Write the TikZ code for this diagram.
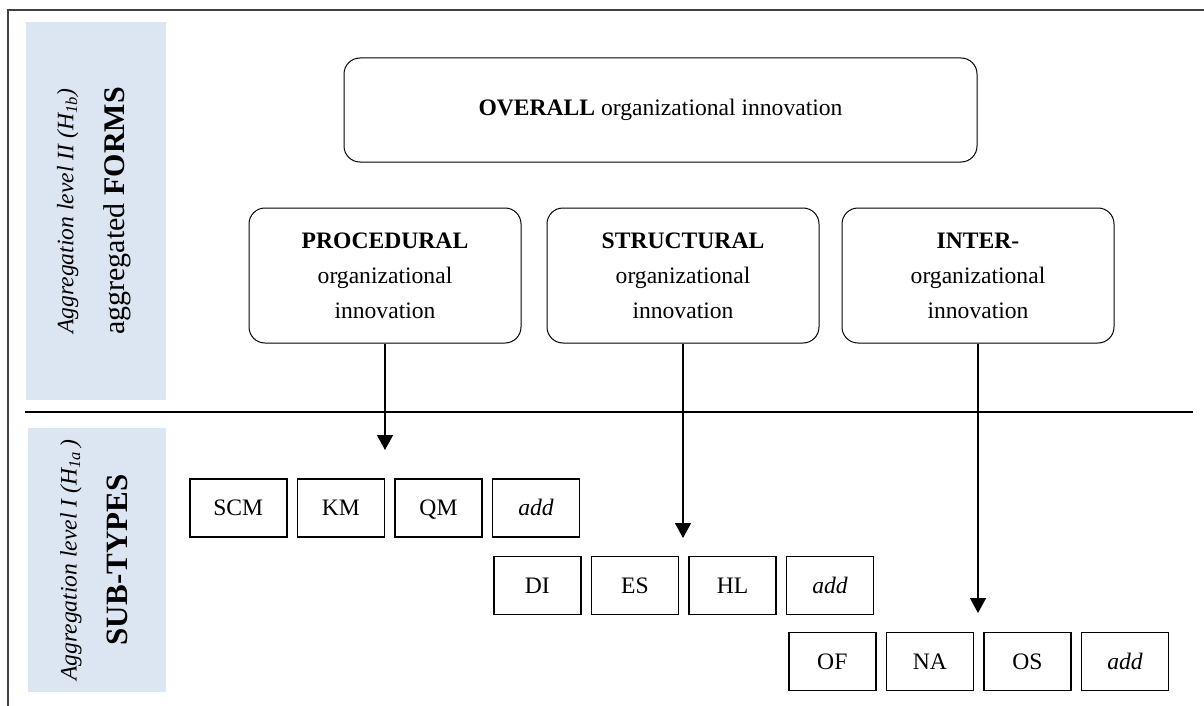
\documentclass[tikz,border=0pt]{standalone}
\usepackage{fontspec}
\setmainfont{Liberation Serif}
\usetikzlibrary{positioning}
\usetikzlibrary{arrows.meta}
\definecolor{panelblue}{HTML}{DCE6F2}
\tikzset{
  formbox/.style={draw, rounded corners=8pt, line width=0.5pt, minimum width=136pt, minimum height=67.5pt, align=center, inner sep=0pt},
  subbox/.style={draw, line width=0.8pt, minimum width=43.5pt, minimum height=29pt, inner sep=0pt, text height=7.8pt, text depth=0pt},
  downarrow/.style={-{Triangle[width=8pt,length=7.5pt]}, line width=0.75pt},
  lvllabel/.style={rotate=90, align=center, inner sep=0pt},
}

\begin{document}
\begin{tikzpicture}[x=0.5pt, y=-0.5pt, font=\fontsize{11.8}{17.5}\selectfont]
  \useasboundingbox (0,0) rectangle (1204,706);
  % frame and level panels
  \draw[line width=0.8pt, black!75] (1204,10) -- (8,10) -- (8,706);
  \fill[panelblue] (26,22) rectangle (166,400);
  \fill[panelblue] (28,428) rectangle (166,692);
  \node[lvllabel] (lvltwo) at (94,211) {{\itshape Aggregation level II (H\textsubscript{1b})}\\[8pt]
    {\fontsize{15}{17}\selectfont aggregated \textbf{FORMS}}};
  \node[lvllabel] (lvlone) at (94,560) {{\itshape Aggregation level I (H\textsubscript{1a}\,)}\\[8pt]
    {\fontsize{15.5}{17}\selectfont\textbf{SUB-TYPES}}};
  \draw[line width=0.8pt] (25,412) -- (1193,412);

  % aggregated forms
  \node[formbox, minimum width=316.5pt, minimum height=52pt] (overall) at (660.5,110) {\textbf{OVERALL} organizational innovation};
  \node[formbox] (proc) at (385,275.5) {\textbf{PROCEDURAL}\\organizational\\innovation};
  \node[formbox] (struct) at (683,275.5) {\textbf{STRUCTURAL}\\organizational\\innovation};
  \node[formbox] (inter) at (978,275.5) {\textbf{INTER-}\\organizational\\innovation};

  % sub-types
  \node[subbox, minimum width=48.5pt, anchor=west] (scm) at (189,508) {SCM};
  \node[subbox, right=4.5pt of scm] (km) {KM};
  \node[subbox, right=4.5pt of km] (qm) {QM};
  \node[subbox, right=4.5pt of qm] (addproc) {\textit{add}};

  \node[subbox, anchor=west] (di) at (493,585.5) {DI};
  \node[subbox, right=4.5pt of di] (es) {ES};
  \node[subbox, right=4.5pt of es] (hl) {HL};
  \node[subbox, right=4.5pt of hl] (addstruct) {\textit{add}};

  \node[subbox, anchor=west] (of) at (788,661.5) {OF};
  \node[subbox, right=4.5pt of of] (na) {NA};
  \node[subbox, right=4.5pt of na] (os) {OS};
  \node[subbox, right=4.5pt of os] (addinter) {\textit{add}};

  % arrows
  \coordinate (proctip) at (385,450);
  \coordinate (structtip) at (683,538);
  \coordinate (intertip) at (978,613);
  \draw[downarrow] (proc.south) -- (proctip);
  \draw[downarrow] (struct.south) -- (structtip);
  \draw[downarrow] (inter.south) -- (intertip);
\end{tikzpicture}
\end{document}
